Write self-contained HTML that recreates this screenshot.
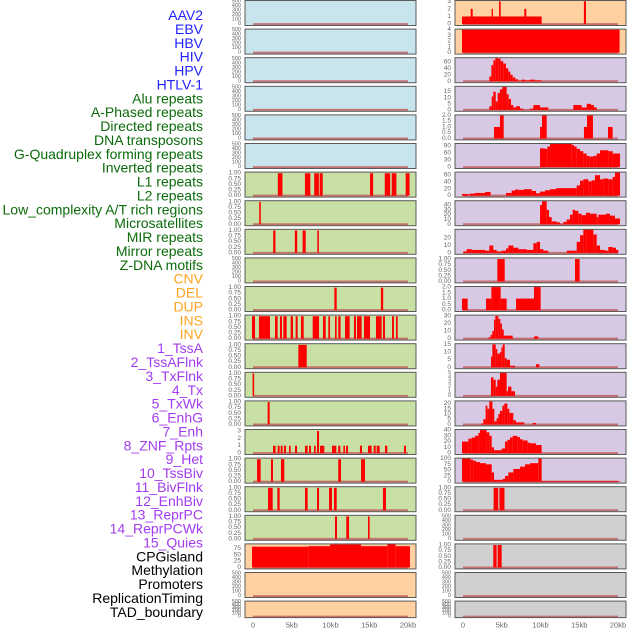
<!DOCTYPE html>
<html><head><meta charset="utf-8"><style>
html,body{margin:0;padding:0;background:#fff;width:630px;height:630px;overflow:hidden}
svg{display:block;font-family:"Liberation Sans",sans-serif}
</style></head><body>
<svg id="chart" width="630" height="630" viewBox="0 0 630 630" xmlns="http://www.w3.org/2000/svg">
<g id="labels"></g>
<g id="panels"></g>
<g id="xaxes"></g>
</svg>
<script>
const trackLabels = ["AAV2","EBV","HBV","HIV","HPV","HTLV-1","Alu repeats","A-Phased repeats","Directed repeats","DNA transposons","G-Quadruplex forming repeats","Inverted repeats","L1 repeats","L2 repeats","Low_complexity A/T rich regions","Microsatellites","MIR repeats","Mirror repeats","Z-DNA motifs","CNV","DEL","DUP","INS","INV","1_TssA","2_TssAFlnk","3_TxFlnk","4_Tx","5_TxWk","6_EnhG","7_Enh","8_ZNF_Rpts","9_Het","10_TssBiv","11_BivFlnk","12_EnhBiv","13_ReprPC","14_ReprPCWk","15_Quies","CPGisland","Methylation","Promoters","ReplicationTiming","TAD_boundary"];
const labelGroups = [6,13,5,15,5];
const xTicks = [0,5,10,15,20];
const xTickLabels = ["0","5kb","10kb","15kb","20kb"];

const t500 = ["0","100","200","300","400","500"];
const t500v = [0,100,200,300,400,500];
const t1 = ["0.00","0.25","0.50","0.75","1.00"];
const t1v = [0,0.25,0.5,0.75,1];

// left column data [startKb, endKb, value]
const leftL1 = [[3.2,3.8,1],[6.7,7.4,1],[7.9,8.5,1],[8.6,9.0,1],[15.1,15.5,1],[17.0,17.7,1],[17.9,18.5,1],[19.7,20.2,1]];
const leftLowComplexity = [[0.8,1.0,1]];
const leftMicrosat = [[2.6,2.9,1],[5.4,5.7,1],[6.4,6.8,1],[8.3,8.5,1]];
const leftMirror = [[10.5,10.8,1],[16.5,16.8,1]];
const leftZDNA = [[-0.13,0.26,1],[0.77,2.19,1],[2.84,3.18,1],[3.48,3.74,1],[3.91,4.34,1],[4.86,5.16,1],[5.5,5.76,1],[6.19,6.54,1],[7.7,8.52,1],[9.03,9.38,1],[9.72,9.94,1],[10.58,10.8,1],[11.0,11.3,1],[11.87,12.47,1],[13.03,13.29,1],[13.42,14.02,1],[14.32,15.1,1],[15.87,16.6,1],[16.77,17.03,1],[17.94,18.19,1],[18.45,18.67,1]];
const leftCNV = [[5.85,6.93,1]];
const leftDEL = [[-0.05,0.15,1]];
const leftDUP = [[1.89,2.15,1]];
const leftINS = [[2.58,2.92,1],[3.18,3.44,1],[3.57,3.83,1],[4.0,4.26,1],[4.65,4.86,1],[5.42,5.68,1],[6.71,7.05,1],[7.23,7.48,1],[7.87,8.09,1],[8.26,8.52,3],[8.65,9.2,1],[10.19,10.75,1],[11.0,11.27,1],[11.66,11.87,1],[12.0,12.26,1],[13.8,14.06,1],[14.84,15.31,1],[15.57,15.83,1],[15.96,16.34,1],[17.03,17.33,1],[19.48,19.74,1]];
const leftINV = [[0.52,0.99,1],[2.32,2.58,1],[3.61,4.04,1],[11.0,11.35,1],[13.94,14.45,1]];
const leftTssA = [[1.94,2.54,1],[3.14,3.44,1],[6.71,7.05,1],[8.26,8.52,1],[9.81,10.19,1],[10.45,10.8,1],[16.77,17.16,1]];
const leftTssAFlnk = [[10.58,10.84,1],[12.04,12.39,1],[14.84,15.05,1]];
const leftTxFlnk = [[-0.13,7.14,82],[7.14,9.94,84],[9.94,13.94,91],[13.94,17.33,84],[17.33,18.41,93],[18.41,20.26,84]];

// right column data
const rightAAV2 = [[-0.13,10.15,1],[0.99,1.25,2],[3.7,3.87,2],[4.65,4.86,3],[7.91,8.17,2],[15.6,15.87,3]];
const rightEBV = [[-0.13,20.2,4]];
const rightHIV = [[3.4,3.66,15],[3.66,3.91,50],[3.91,4.17,65],[4.17,4.56,72],[4.56,4.86,70],[4.86,5.2,62],[5.2,5.55,55],[5.55,5.85,40],[5.85,6.11,30],[6.11,6.41,20],[6.41,6.75,12],[6.75,7.14,6],[7.14,7.57,2],[7.57,8.0,5],[8.0,8.65,3],[8.65,9.29,5],[9.29,10.15,3]];
const rightAlu = [[3.4,3.7,3],[3.7,3.91,11],[3.91,4.22,15],[4.22,4.47,7],[4.47,4.77,14],[4.77,5.08,17],[5.08,5.63,19],[5.63,5.89,13],[5.89,6.19,9],[6.19,6.49,4],[6.49,6.84,2],[6.84,7.35,3],[7.35,7.78,1],[8.65,9.08,1],[9.08,9.94,4],[9.94,11.01,2],[14.24,15.31,4],[15.31,15.96,2],[15.96,16.52,5],[16.52,16.9,4],[16.9,17.25,2]];
const rightAPhased = [[4.0,4.77,1],[4.77,5.25,2],[9.94,10.19,1],[10.19,10.8,2],[15.61,16.0,1],[16.0,16.77,2],[18.71,19.31,1]];
const rightGQuad = [[9.94,10.58,80],[10.58,10.88,78],[10.88,11.23,88],[11.23,14.02,100],[14.02,14.32,95],[14.32,14.67,88],[14.67,15.1,78],[15.1,15.53,68],[15.53,15.96,58],[15.96,16.3,48],[16.3,16.82,45],[16.82,17.25,48],[17.25,17.68,58],[17.68,18.75,72],[18.75,19.31,68],[19.31,20.26,58]];
const rightInverted = [[-0.13,0.69,5],[0.82,1.55,6],[1.55,2.84,8],[2.84,3.57,11],[5.55,6.28,8],[6.28,6.71,15],[6.71,7.14,18],[7.14,7.87,17],[7.87,8.86,19],[8.86,9.42,14],[9.42,9.94,7],[9.94,10.58,12],[10.58,11.23,16],[11.23,12.0,19],[12.0,14.67,22],[14.67,15.1,30],[15.1,15.53,44],[15.53,16.17,48],[16.17,16.6,42],[16.6,17.03,45],[17.03,17.68,60],[17.68,18.11,48],[18.11,18.75,50],[18.75,19.31,48],[19.31,19.61,55],[19.61,20.26,68]];
const rightL2 = [[9.94,10.19,40],[10.19,10.8,48],[10.8,11.1,30],[11.1,11.44,15],[11.44,12.09,6],[12.09,12.52,4],[12.52,12.95,1],[12.95,13.38,5],[13.38,13.81,10],[13.81,14.15,20],[14.15,14.45,30],[14.45,14.88,28],[14.88,15.31,22],[15.31,15.87,19],[15.87,16.39,24],[16.39,17.25,22],[17.25,17.46,15],[17.46,18.45,20],[18.45,18.97,22],[18.97,19.61,18],[19.61,20.26,12]];
const rightLowComplexity = [[0.04,0.47,2],[0.47,1.12,5],[1.12,1.98,4],[1.98,2.84,4],[2.84,3.4,3],[3.4,3.91,10],[3.91,4.34,4],[4.34,4.99,2],[4.99,5.55,3],[5.55,5.85,6],[5.85,6.49,10],[6.49,7.14,7],[7.14,7.57,5],[7.57,8.22,5],[8.22,9.08,4],[9.08,9.51,13],[9.51,9.94,15],[9.94,10.37,5],[10.37,11.01,3],[13.38,14.24,3],[14.24,14.67,3],[14.67,15.1,15],[15.1,15.53,24],[15.53,15.96,32],[15.96,16.82,32],[16.82,17.25,25],[17.25,17.68,10],[17.68,18.32,4],[18.32,18.75,3],[18.75,19.31,8],[19.31,19.74,7],[19.74,20.04,4]];
const rightZDNA = [[4.43,5.38,1],[14.45,15.05,1]];
const rightCNV = [[-0.13,0.6,1],[2.97,3.66,1],[3.66,4.86,2],[4.86,5.63,1],[6.84,9.16,1],[9.16,10.02,2]];
const rightDEL = [[3.31,3.57,2],[3.57,3.79,5],[3.79,4.0,10],[4.0,4.17,25],[4.17,4.56,30],[4.56,4.82,26],[4.82,5.03,20],[5.03,5.25,12],[5.25,6.41,4],[9.16,9.72,3]];
const rightDUP = [[3.61,3.79,7],[3.79,4.22,15],[4.22,4.43,12],[4.43,4.77,9],[4.77,4.95,10],[4.95,5.12,13],[5.12,5.38,15],[5.38,5.63,6],[5.63,6.06,5],[6.06,6.71,1],[9.42,9.85,2]];
const rightINS = [[3.61,3.91,4],[3.91,4.22,3.5],[4.22,4.43,2],[4.43,4.77,3.5],[4.77,5.63,5],[5.63,5.81,1],[5.81,6.24,2],[6.24,6.71,1]];
const rightINV = [[2.32,2.62,1],[2.62,2.92,5],[2.92,3.14,18],[3.14,3.4,15],[3.4,3.79,22],[3.79,4.04,15],[4.04,4.34,3],[4.34,4.56,6],[4.56,4.77,10],[4.77,5.08,13],[5.08,5.33,18],[5.33,5.72,20],[5.72,5.98,15],[5.98,6.49,11],[6.49,6.84,4],[6.84,7.91,2],[8.99,9.42,1.5]];
const rightTssA = [[-0.13,0.69,20],[0.69,1.12,25],[1.12,1.55,27],[1.55,1.98,30],[1.98,2.19,35],[2.19,3.05,40],[3.05,3.4,36],[3.4,3.7,30],[3.7,4.0,10],[4.0,4.99,5],[4.99,5.42,8],[5.42,5.72,20],[5.72,6.06,23],[6.06,6.41,27],[6.41,7.01,30],[7.01,7.35,28],[7.35,7.7,24],[7.7,8.34,22],[8.34,8.65,18],[8.65,9.42,17],[9.42,10.15,14]];
const rightTssAFlnk = [[-0.13,0.99,100],[0.99,1.33,95],[1.33,1.68,90],[1.68,2.19,85],[2.19,2.97,80],[2.97,3.7,75],[3.7,4.0,40],[4.0,5.12,8],[5.12,5.42,12],[5.42,5.85,25],[5.85,6.49,40],[6.49,7.35,55],[7.35,8.0,65],[8.0,8.65,75],[8.65,9.72,80],[9.72,10.15,100],[10.15,20.26,3]];
const rightTxFlnk = [[3.95,4.55,1],[4.7,5.35,1]];
const rightTxWk = [[3.91,4.34,1],[4.47,4.99,1]];
const emptyData = [];

const C = {blue:"#c8e4ec", green:"#c8e0a4", orange:"#ffd1a1", purple:"#d7c8e3", grey:"#d0d0d0"};
const leftPanels = [
 {bg:C.blue,tk:t500,tv:t500v,ymax:525,d:emptyData,n:"aav2"},
 {bg:C.blue,tk:t500,tv:t500v,ymax:525,d:emptyData,n:"ebv"},
 {bg:C.blue,tk:t500,tv:t500v,ymax:525,d:emptyData,n:"hbv"},
 {bg:C.blue,tk:t500,tv:t500v,ymax:525,d:emptyData,n:"hiv"},
 {bg:C.blue,tk:t500,tv:t500v,ymax:525,d:emptyData,n:"hpv"},
 {bg:C.blue,tk:t500,tv:t500v,ymax:525,d:emptyData,n:"htlv"},
 {bg:C.green,tk:t1,tv:t1v,ymax:1.05,d:leftL1,n:"l1"},
 {bg:C.green,tk:t1,tv:t1v,ymax:1.05,d:leftLowComplexity,n:"low-complexity"},
 {bg:C.green,tk:t1,tv:t1v,ymax:1.05,d:leftMicrosat,n:"microsat"},
 {bg:C.green,tk:t500,tv:t500v,ymax:525,d:emptyData,n:"mir"},
 {bg:C.green,tk:t1,tv:t1v,ymax:1.05,d:leftMirror,n:"mirror"},
 {bg:C.green,tk:t1,tv:t1v,ymax:1.05,d:leftZDNA,n:"zdna"},
 {bg:C.green,tk:t1,tv:t1v,ymax:1.05,d:leftCNV,n:"cnv"},
 {bg:C.green,tk:t1,tv:t1v,ymax:1.05,d:leftDEL,n:"del"},
 {bg:C.green,tk:t1,tv:t1v,ymax:1.05,d:leftDUP,n:"dup"},
 {bg:C.green,tk:["0","1","2","3"],tv:[0,1,2,3],ymax:3.2,d:leftINS,n:"ins"},
 {bg:C.green,tk:t1,tv:t1v,ymax:1.05,d:leftINV,n:"inv"},
 {bg:C.green,tk:t1,tv:t1v,ymax:1.05,d:leftTssA,n:"tssa"},
 {bg:C.green,tk:t1,tv:t1v,ymax:1.05,d:leftTssAFlnk,n:"tssaflnk"},
 {bg:C.orange,tk:["0","25","50","75"],tv:[0,25,50,75],ymax:93,d:leftTxFlnk,n:"txflnk"},
 {bg:C.orange,tk:t500,tv:t500v,ymax:525,d:emptyData,n:"tx"},
 {bg:C.orange,tk:t500,tv:t500v,ymax:525,d:emptyData,n:"txwk"}
];
const rightPanels = [
 {bg:C.orange,tk:["0","1","2","3"],tv:[0,1,2,3],ymax:3.1,d:rightAAV2,n:"aav2"},
 {bg:C.orange,tk:["0","1","2","3","4"],tv:[0,1,2,3,4],ymax:4.1,d:rightEBV,n:"ebv"},
 {bg:C.purple,tk:["0","20","40","60"],tv:[0,20,40,60],ymax:73,d:rightHIV,n:"hiv"},
 {bg:C.purple,tk:["0","5","10","15"],tv:[0,5,10,15],ymax:19.5,d:rightAlu,n:"alu"},
 {bg:C.purple,tk:["0.0","0.5","1.0","1.5","2.0"],tv:[0,0.5,1,1.5,2],ymax:2.05,d:rightAPhased,n:"aphased"},
 {bg:C.purple,tk:["0","30","60","90"],tv:[0,30,60,90],ymax:101,d:rightGQuad,n:"gquad"},
 {bg:C.purple,tk:["0","20","40","60"],tv:[0,20,40,60],ymax:69,d:rightInverted,n:"inverted"},
 {bg:C.purple,tk:["0","10","20","30","40"],tv:[0,10,20,30,40],ymax:49,d:rightL2,n:"l2"},
 {bg:C.purple,tk:["0","10","20"],tv:[0,10,20],ymax:32,d:rightLowComplexity,n:"low-complexity"},
 {bg:C.purple,tk:t1,tv:t1v,ymax:1.05,d:rightZDNA,n:"zdna"},
 {bg:C.purple,tk:["0.0","0.5","1.0","1.5","2.0"],tv:[0,0.5,1,1.5,2],ymax:2.05,d:rightCNV,n:"cnv"},
 {bg:C.purple,tk:["0","10","20","30"],tv:[0,10,20,30],ymax:31,d:rightDEL,n:"del"},
 {bg:C.purple,tk:["0","5","10","15"],tv:[0,5,10,15],ymax:15.5,d:rightDUP,n:"dup"},
 {bg:C.purple,tk:["0","1","2","3","4","5"],tv:[0,1,2,3,4,5],ymax:5.1,d:rightINS,n:"ins"},
 {bg:C.purple,tk:["0","5","10","15","20"],tv:[0,5,10,15,20],ymax:22.5,d:rightINV,n:"inv"},
 {bg:C.purple,tk:["0","10","20","30","40"],tv:[0,10,20,30,40],ymax:41,d:rightTssA,n:"tssa"},
 {bg:C.purple,tk:["0","25","50","75","100"],tv:[0,25,50,75,100],ymax:102,d:rightTssAFlnk,n:"tssaflnk"},
 {bg:C.grey,tk:t1,tv:t1v,ymax:1.05,d:rightTxFlnk,n:"txflnk"},
 {bg:C.grey,tk:t500,tv:t500v,ymax:525,d:emptyData,n:"tx"},
 {bg:C.grey,tk:t1,tv:t1v,ymax:1.05,d:rightTxWk,n:"txwk"},
 {bg:C.grey,tk:t500,tv:t500v,ymax:525,d:emptyData,n:"enhg"},
 {bg:C.grey,tk:t500,tv:t500v,ymax:525,d:emptyData,n:"enh"}
];

const NS = "http://www.w3.org/2000/svg";
function mk(tag, attrs, parent){ const e=document.createElementNS(NS,tag); for(const k in attrs) e.setAttribute(k,attrs[k]); parent.appendChild(e); return e; }

// labels
const labelColors = ["#2222ff","#0b6b0b","#ffa521","#a33cf0","#000000"];
const lg = document.getElementById("labels");
let gi=0, cnt=0;
trackLabels.forEach((t,i)=>{
  while(cnt>=labelGroups[gi]){cnt=0;gi++;}
  cnt++;
  const e = mk("text",{x:203,y:15+i*13.88,"text-anchor":"end","dominant-baseline":"central","font-size":"14",fill:labelColors[gi]},lg);
  
  
  e.textContent = t;
});

const ROW = 28.6, PW = 171;
function xScale(x0, kb){ return x0 + 8 + kb*7.75; }
const pg = document.getElementById("panels");
function drawColumn(list, x0, side){
  list.forEach((p,i)=>{
    const top = i*ROW + 0.5;
    const h = (i===list.length-1) ? 16.5 : 25;
    const ymin = -p.ymax*0.06;
    const yS = v => top + h - (v - ymin)/(p.ymax - ymin)*h;
    const g = mk("g",{},pg);
    
    
    const bg = mk("rect",{x:x0,y:top,width:PW,height:h,fill:p.bg},g);
    
    
    const bl = mk("line",{x1:xScale(x0,0),x2:xScale(x0,20),y1:yS(0),y2:yS(0),stroke:"#c25a5a","stroke-width":2,"stroke-opacity":0.8},g);
    
    
    p.d.forEach(s=>{
      const xa = xScale(x0,s[0]), xb = xScale(x0,s[1]);
      const ya = yS(s[2]), yb = yS(0);
      const r = mk("rect",{x:xa,y:Math.max(ya,top),width:Math.max(xb-xa,1),height:yb-Math.max(ya,top),fill:"#ff0000"},g);
      
      
    });
    const fr = mk("rect",{x:x0,y:top,width:PW,height:h,fill:"none",stroke:"#5a5a5a","stroke-width":1},g);
    
    
    const fs = p.tk.length>5 ? 5.5 : 6.5;
    p.tk.forEach((t,j)=>{
      const e = mk("text",{x:x0-4,y:yS(p.tv[j]),"text-anchor":"end","dominant-baseline":"central","font-size":fs,fill:"#666"},g);
      
      
      e.textContent = t;
    });
  });
}
drawColumn(leftPanels, 245, "left");
drawColumn(rightPanels, 455, "right");

const xg = document.getElementById("xaxes");
[245,455].forEach(x0=>{
  xTicks.forEach((v,j)=>{
    const e = mk("text",{x:xScale(x0,v),y:625,"text-anchor":"middle","dominant-baseline":"central","font-size":"7.5",fill:"#666"},xg);
    
    
    e.textContent = xTickLabels[j];
  });
});
</script>
</body></html>
